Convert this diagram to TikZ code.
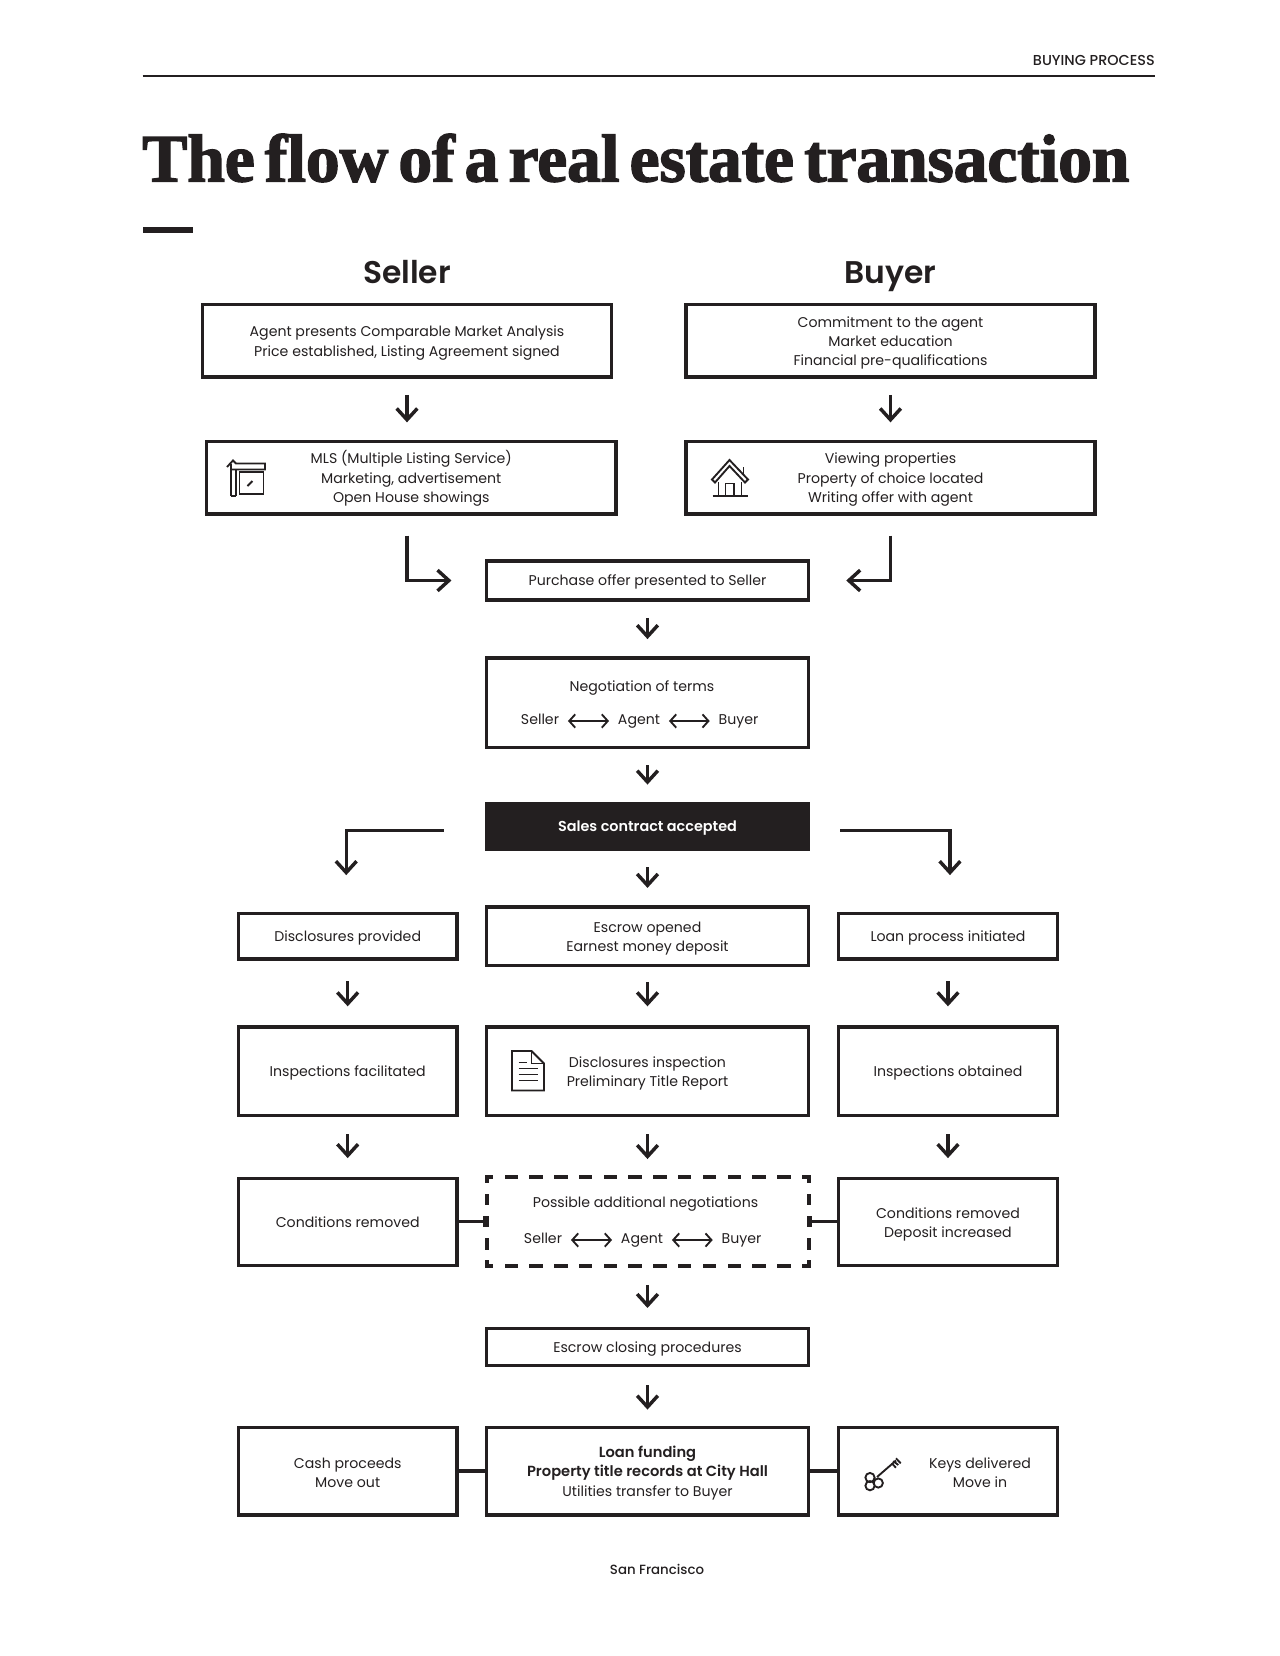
\documentclass[tikz,border=0pt]{standalone}
\usepackage{fontspec}
\usepackage{xcolor}
\usepackage{tikz}
\usetikzlibrary{arrows.meta,positioning}
\setmainfont{Poppins}
\newfontfamily\titlefont[LetterSpace=-0.3,WordSpace=0.6,BoldFeatures={FakeBold=2}]{Liberation Serif}
\newfontfamily\mediumfont{Poppins Medium}
\newfontfamily\semifont{Poppins SemiBold}
\definecolor{ink}{HTML}{231F20}
\newcommand{\bodysize}{\fontsize{10.6}{14.6}\selectfont}
\newcommand{\strongtext}{\semifont\fontsize{11}{14.6}\selectfont}
\newcommand{\dropline}[1][11.4pt]{\rule{0pt}{#1}}

\begin{document}
\begin{tikzpicture}[
    x=0.75pt, y=-0.75pt,
    every node/.style={text=ink},
    box/.style={rectangle, draw=ink, line width=2.6pt, inner sep=0pt, align=center, font=\bodysize,
        execute at begin node={\rule{0pt}{10.5pt}}, execute at end node={\rule[-2.3pt]{0pt}{2.3pt}}},
    wide/.style={box, minimum width=241.5pt},
    side/.style={box, minimum width=164pt},
    top/.style={box, minimum width=307pt, minimum height=54.4pt},
    lbl/.style={inner xsep=6.5pt, inner ysep=0pt, text height=8pt, text depth=2.5pt, font=\bodysize},
    head/.style={inner sep=0pt, text height=17pt, text depth=5pt, font=\semifont\fontsize{23.5}{28}\selectfont},
    arrow/.style={-{Straight Barb[length=8.5pt, width=15.5pt]}, draw=ink, line width=2.6pt, shorten <=12pt, shorten >=13pt},
    twoway/.style={{Straight Barb[length=4.5pt, width=10pt]}-{Straight Barb[length=4.5pt, width=10pt]}, draw=ink, line width=1.4pt},
    link/.style={draw=ink, line width=2.6pt},
    tick/.style={link, -{Bar[width=8pt]}},
    dashh/.style={draw=ink, line width=3pt, line cap=rect, dash pattern=on 7.1pt off 11.48pt, dash phase=3.55pt},
    dashv/.style={draw=ink, line width=3pt, line cap=rect, dash pattern=on 5.7pt off 10.99pt, dash phase=2.85pt},
    icon/.style={draw=ink, line width=1.4pt}
]
    \useasboundingbox (0,0) rectangle (1280,1656);

    \node[anchor=base east, inner sep=0pt, font=\mediumfont\fontsize{10.8}{12}\selectfont] (section) at (1155,65.5) {BUYING PROCESS};
    \coordinate (ruleleft) at (142.5,75.5);
    \coordinate (ruleright) at (1155,75.5);
    \draw[ink, line width=1.5pt] (ruleleft) -- (ruleright);
    \node[anchor=base west, inner sep=0pt, font=\titlefont\bfseries\fontsize{50.8}{50}\selectfont] (title) at (142,181.5) {The flow of a real estate transaction};
    \fill[ink] (142.5,226.5) rectangle (193,232.5);

    \node[top] (list1) at (407,340.75) {\dropline Agent presents Comparable Market Analysis\\Price established, Listing Agreement signed};
    \node[top] (commit) at (890.5,340.75) {\dropline Commitment to the agent\\Market education\\Financial pre-qualifications};
    \node[head, above=9pt of list1] (sellerhead) {Seller};
    \node[head, above=9pt of commit] (buyerhead) {Buyer};
    \node[top, below=45.7pt of list1, xshift=3.2pt] (mls) {\dropline MLS (Multiple Listing Service)\\Marketing, advertisement\\Open House showings};
    \node[top, below=45.7pt of commit] (viewing) {\dropline Viewing properties\\Property of choice located\\Writing offer with agent};

    \node[wide, minimum height=29.3pt] (offer) at (647.5,580.5) {Purchase offer presented to Seller};
    \node[wide, minimum height=67pt, below=41pt of offer] (terms) {};
    \node[wide, minimum height=34.4pt, fill=ink, below=39.5pt of terms, font=\semifont\fontsize{10.8}{14.6}\selectfont, text=white] (sales) {Sales contract accepted};
    \node[wide, minimum height=43.9pt, below=40.5pt of sales] (escrow) {\dropline Escrow opened\\Earnest money deposit};
    \node[wide, minimum height=66.4pt, below=43.6pt of escrow] (inspect) {\dropline Disclosures inspection\\Preliminary Title Report};
    \node[wide, minimum height=66.8pt, below=44.85pt of inspect, draw=none, outer sep=0pt] (addneg) {};
    \node[wide, minimum height=27.9pt, below=45.3pt of addneg] (closing) {Escrow closing procedures};
    \node[wide, minimum height=65.6pt, below=43.7pt of closing] (funding) {\dropline\strongtext Loan funding\\\strongtext Property title records at City Hall\\Utilities transfer to Buyer};

    \draw[dashh] (addneg.north west) -- (addneg.north east);
    \draw[dashh] (addneg.south west) -- (addneg.south east);
    \draw[dashv] (addneg.north west) -- (addneg.south west);
    \draw[dashv] (addneg.north east) -- (addneg.south east);

    \node[side, minimum height=34.1pt, left=19.5pt of escrow] (disc) {Disclosures provided};
    \node[side, minimum height=34.1pt, right=20pt of escrow] (loan) {Loan process initiated};
    \node[side, minimum height=66.4pt, left=19.5pt of inspect] (inspsell) {Inspections facilitated};
    \node[side, minimum height=66.4pt, right=20pt of inspect] (inspbuy) {Inspections obtained};
    \node[side, minimum height=65.6pt, left=20.8pt of addneg, yshift=-0.2pt] (condsell) {Conditions removed};
    \node[side, minimum height=65.6pt, right=21.3pt of addneg, yshift=-0.2pt] (condbuy) {\dropline Conditions removed\\Deposit increased};
    \node[side, minimum height=65.6pt, left=19.5pt of funding] (cash) {\dropline[12.5pt]Cash proceeds\\Move out};
    \node[side, minimum height=65.6pt, right=20pt of funding] (keys) {\dropline[12.5pt]\hspace*{48pt}Keys delivered\\\hspace*{48pt}Move in};

    \node[lbl] (termstitle) at (642,687.5) {Negotiation of terms};
    \node[lbl] (termsseller) at (540,721) {Seller};
    \node[lbl] (termsagent) at (639,721) {Agent};
    \node[lbl] (termsbuyer) at (738.5,721) {Buyer};
    \draw[twoway] (termsseller) -- (termsagent);
    \draw[twoway] (termsagent) -- (termsbuyer);

    \node[lbl] (addtitle) at (645.5,1204) {Possible additional negotiations};
    \node[lbl] (addseller) at (543,1240) {Seller};
    \node[lbl] (addagent) at (642,1240) {Agent};
    \node[lbl] (addbuyer) at (741.5,1240) {Buyer};
    \draw[twoway] (addseller) -- (addagent);
    \draw[twoway] (addagent) -- (addbuyer);

    \node[font=\mediumfont\fontsize{10}{12}\selectfont] (city) at (657,1569) {San Francisco};

    \draw[arrow] (list1.south) -- (list1.south |- mls.north);
    \draw[arrow] (commit) -- (viewing);
    \draw[arrow, shorten <=15pt, shorten >=25pt] (list1.south |- mls.south) |- (offer.west);
    \draw[arrow, shorten <=15pt, shorten >=27pt] (viewing.south) |- (offer.east);
    \draw[arrow] (offer) -- (terms);
    \draw[arrow] (terms) -- (sales);
    \draw[arrow] (sales) -- (escrow);
    \draw[arrow, shorten <=30.7pt, shorten >=27.5pt] ([yshift=-3pt]sales.west) -| ([xshift=-1.1pt]disc.north);
    \draw[arrow, shorten <=22.5pt, shorten >=27.5pt] ([yshift=-3pt]sales.east) -| ([xshift=1.5pt]loan.north);
    \draw[arrow, shorten <=15.5pt, shorten >=14.3pt] (disc) -- (inspsell);
    \draw[arrow, shorten <=11pt, shorten >=14.3pt] (escrow) -- (inspect);
    \draw[arrow, shorten <=15.5pt, shorten >=14.3pt] (loan) -- (inspbuy);
    \draw[arrow, shorten <=12.5pt, shorten >=13.8pt] (inspsell) -- (condsell);
    \draw[arrow, shorten <=12.5pt, shorten >=13.6pt] (inspect) -- (addneg);
    \draw[arrow, shorten <=12.5pt, shorten >=13.8pt] (inspbuy) -- (condbuy);
    \draw[arrow, shorten <=14pt, shorten >=14pt] (addneg) -- (closing);
    \draw[arrow, shorten <=13.5pt, shorten >=12pt] (closing) -- (funding);
    \draw[tick] (condsell.east |- addneg.west) -- (addneg.west);
    \draw[tick] (condbuy.west |- addneg.east) -- (addneg.east);
    \draw[link] (cash) -- (funding);
    \draw[link] (funding) -- (keys);

    \draw[icon] (231,496) -- (231,464) (236,496) -- (236,469.5) (231,496) -- (236,496);
    \draw[icon] (227,467) -- (233,460.5) -- (236,463.5) -- (265,463.5) -- (265,469.5) -- (231,469.5);
    \draw[icon] (239.5,472) rectangle (263.5,494);
    \draw[icon] (247.5,486) -- (252.5,481);

    \draw[icon] (712,479.5) -- (729.5,460) -- (748,479.5) -- (745,482.5) -- (729.5,466) -- (715,482.5) -- cycle;
    \draw[icon] (718.5,482) -- (718.5,496) (741.5,482) -- (741.5,496) (712.5,496) -- (747.5,496);
    \draw[icon] (725.5,496) -- (725.5,483.5) -- (734,483.5) -- (734,496);
    \draw[icon] (743.5,474) -- (743.5,467);

    \draw[icon] (531.5,1051) -- (512,1051) -- (512,1090.5) -- (544,1090.5) -- (544,1063.5) -- cycle;
    \draw[icon] (531.5,1051) -- (531.5,1063.5) -- (544,1063.5);
    \draw[icon] (518.5,1062.5) -- (526.5,1062.5);
    \draw[icon] (518.5,1068.5) -- (537.5,1068.5) (518.5,1074.5) -- (537.5,1074.5) (518.5,1080.5) -- (537.5,1080.5);

    \draw[icon] (870,1477.5) circle (4.6) (870,1485.7) circle (4.6) (878.3,1483) circle (4.6);
    \draw[icon] (877,1477) -- (896,1460.5);
    \draw[icon] (891.7,1463.3) -- (896,1467.7) (893.3,1461) -- (898.3,1465) (896,1458.3) -- (900.7,1463.3);
\end{tikzpicture}
\end{document}
